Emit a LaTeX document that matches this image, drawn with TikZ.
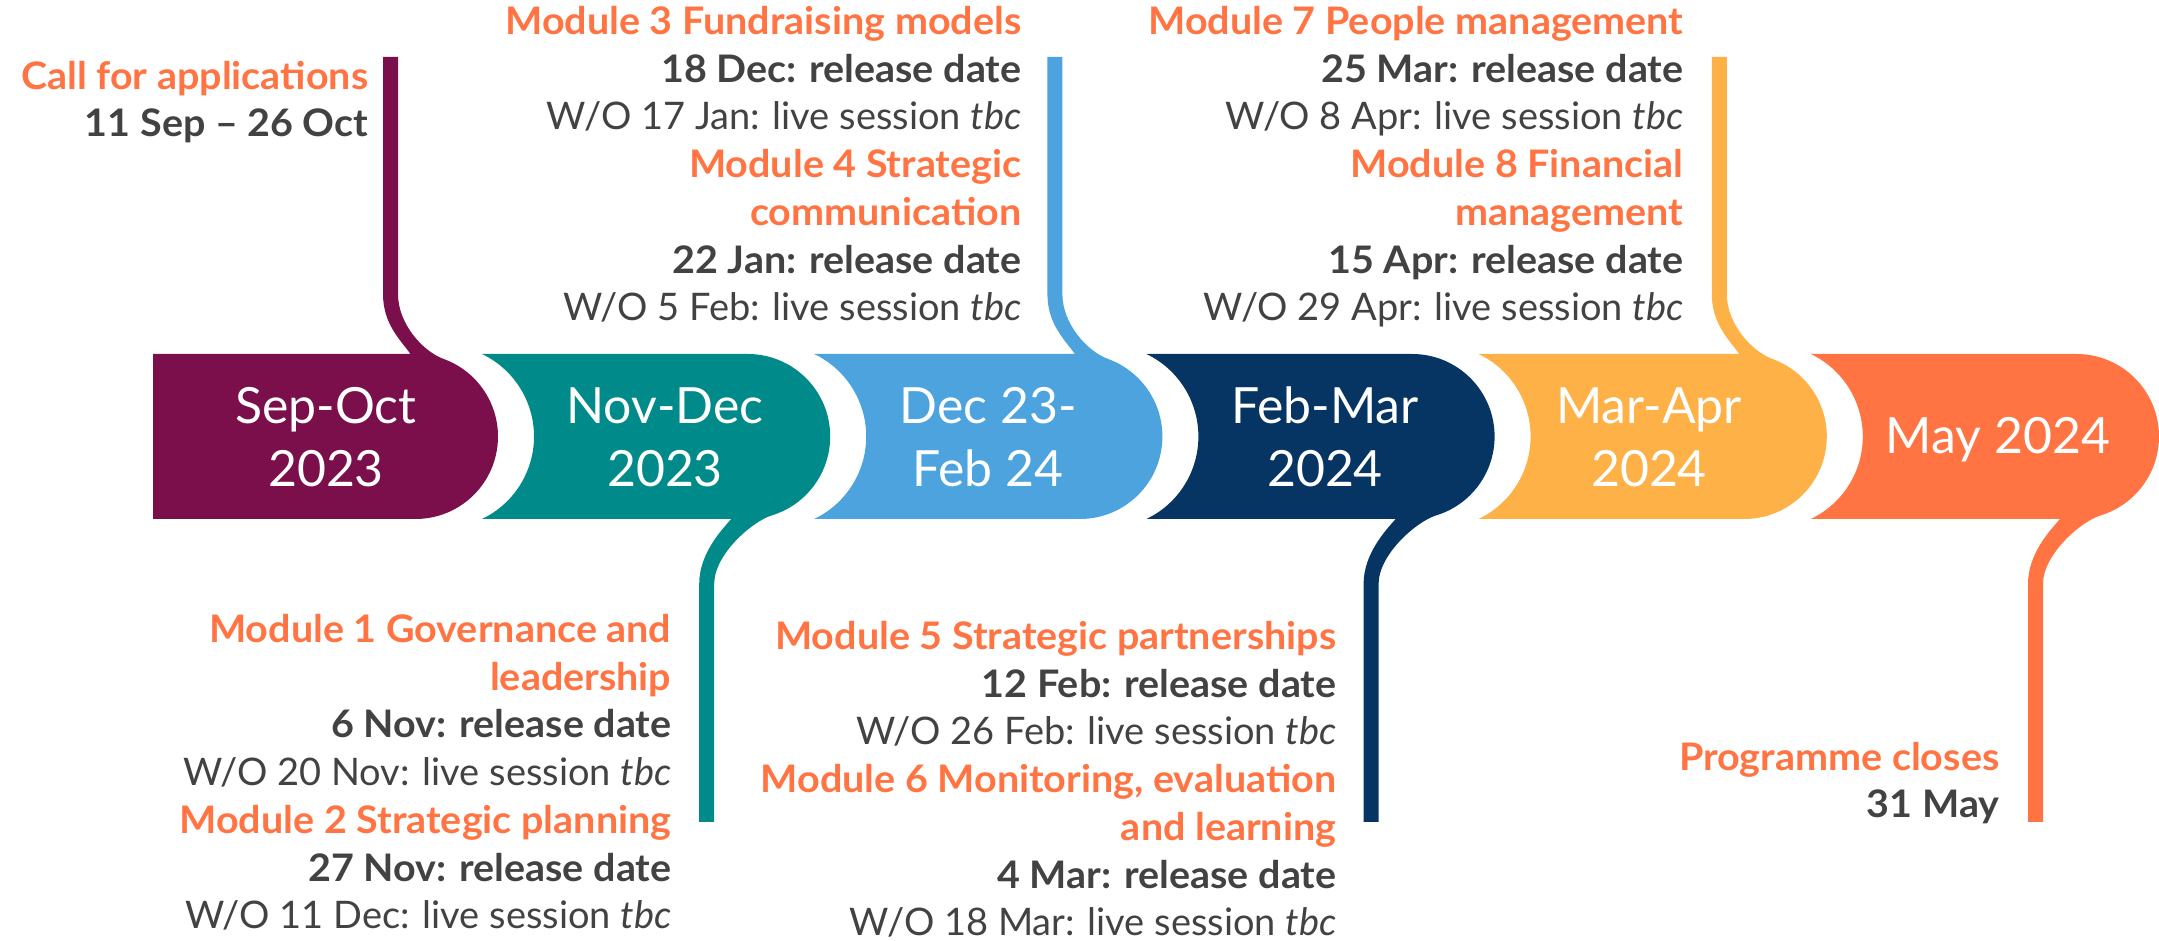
\documentclass[tikz,border=0pt]{standalone}
\usepackage{fontspec}
\setmainfont{Lato}[BoldFeatures={FakeStretch=1.04}]
\definecolor{plum}{HTML}{7B0F4B}
\definecolor{tealbox}{HTML}{008B8A}
\definecolor{sky}{HTML}{4CA3DD}
\definecolor{navy}{HTML}{063563}
\definecolor{amber}{HTML}{FDB147}
\definecolor{coral}{HTML}{FF7442}
\definecolor{ink}{HTML}{424242}

\tikzset{
  info/.style={align=right, anchor=base east, inner sep=0pt, text=ink,
    font=\fontsize{10.8}{13.6}\selectfont},
  period/.style={align=center, anchor=base, inner sep=0pt, text=white,
    font=\fontsize{14.2}{18.2}\selectfont},
}
\newcommand\hd[1]{\textcolor{coral}{\bfseries #1}}

% band: top 354, bottom 519, middle 436.5; cap radius 82.5; stems 15 wide
% #1 left edge, #2 right edge, #3 colour, #4 depth of the concave left side
\newcommand\topstembox[4]{%
  \pgfmathsetmacro\cx{#2-82.5}%
  \pgfmathsetmacro\sx{#2-107.5}%
  \pgfmathsetmacro\jx{\cx+28.2}%
  \fill[#3] (#1,354) -- (\sx+20,354)
    .. controls (\sx+10,340) and (\sx-7.5,324) .. (\sx-7.5,294)
    -- (\sx-7.5,57) -- (\sx+7.5,57) -- (\sx+7.5,294)
    .. controls (\sx+7.5,324) and (\jx-20.7,351.5) .. (\jx,359)
    .. controls (\jx+32.6,370.9) and (#2,401.8) .. (#2,436.5)
    .. controls (#2,482.1) and (\cx+45.6,519) .. (\cx,519)
    -- (#1,519)
    .. controls (#1+0.612*#4,503.8) and (#1+#4,471.7) .. (#1+#4,436.5)
    .. controls (#1+#4,401.3) and (#1+0.612*#4,369.2) .. (#1,354) -- cycle;
}
\newcommand\bottomstembox[4]{%
  \pgfmathsetmacro\cx{#2-82.5}%
  \pgfmathsetmacro\sx{#2-123.5}%
  \pgfmathsetmacro\jx{\cx+24.1}%
  \fill[#3] (#1,354) -- (\cx,354)
    .. controls (\cx+45.6,354) and (#2,390.9) .. (#2,436.5)
    .. controls (#2,472.8) and (\jx+34.7,504.8) .. (\jx,515.4)
    .. controls (\jx-19.1,521.2) and (\sx+7.5,554) .. (\sx+7.5,584)
    -- (\sx+7.5,822) -- (\sx-7.5,822) -- (\sx-7.5,584)
    .. controls (\sx-7.5,554) and (\sx+14,531) .. (\sx+24.5,519)
    -- (#1,519)
    .. controls (#1+0.612*#4,503.8) and (#1+#4,471.7) .. (#1+#4,436.5)
    .. controls (#1+#4,401.3) and (#1+0.612*#4,369.2) .. (#1,354) -- cycle;
}

\begin{document}
\begin{tikzpicture}[x=0.1mm, y=-0.1mm]
\useasboundingbox (0,0) rectangle (2159,941);

% timeline segments
\topstembox{153}{498}{plum}{0}
\bottomstembox{482}{830.2}{tealbox}{52}
\topstembox{814.2}{1162.4}{sky}{52}
\bottomstembox{1146.4}{1494.6}{navy}{52}
\topstembox{1478.6}{1826.8}{amber}{52}
\bottomstembox{1810.8}{2159}{coral}{52}

% period labels (anchored on the baseline of the last line)
\node[period] (p1) at (326,487) {Sep-Oct\\2023};
\node[period] (p2) at (665,487) {Nov-Dec\\2023};
\node[period] (p3) at (988,487) {Dec 23-\\Feb 24};
\node[period] (p4) at (1325,487) {Feb-Mar\\2024};
\node[period] (p5) at (1649,487) {Mar-Apr\\2024};
\node[period] (p6) at (1998,454) {May 2024};

% milestones above the band
\node[info] (call) at (369,137) {\hd{Call for applications}\\
  \textbf{11 Sep – 26 Oct}};
\node[info] (m34) at (1022,321) {\hd{Module 3 Fundraising models}\\
  \textbf{18 Dec: release date}\\
  W/O 17 Jan: live session \textit{tbc}\\
  \hd{Module 4 Strategic}\\
  \hd{communication}\\
  \textbf{22 Jan: release date}\\
  W/O 5 Feb: live session \textit{tbc}};
\node[info] (m78) at (1684,321) {\hd{Module 7 People management}\\
  \textbf{25 Mar: release date}\\
  W/O 8 Apr: live session \textit{tbc}\\
  \hd{Module 8 Financial}\\
  \hd{management}\\
  \textbf{15 Apr: release date}\\
  W/O 29 Apr: live session \textit{tbc}};

% milestones below the band
\node[info] (m12) at (672,929) {\hd{Module 1 Governance and}\\
  \hd{leadership}\\
  \textbf{6 Nov: release date}\\
  W/O 20 Nov: live session \textit{tbc}\\
  \hd{Module 2 Strategic planning}\\
  \textbf{27 Nov: release date}\\
  W/O 11 Dec: live session \textit{tbc}};
\node[info] (m56) at (1337,936) {\hd{Module 5 Strategic partnerships}\\
  \textbf{12 Feb: release date}\\
  W/O 26 Feb: live session \textit{tbc}\\
  \hd{Module 6 Monitoring, evaluation}\\
  \hd{and learning}\\
  \textbf{4 Mar: release date}\\
  W/O 18 Mar: live session \textit{tbc}};
\node[info] (close) at (2000,818) {\hd{Programme closes}\\
  \textbf{31 May}};
\end{tikzpicture}
\end{document}
